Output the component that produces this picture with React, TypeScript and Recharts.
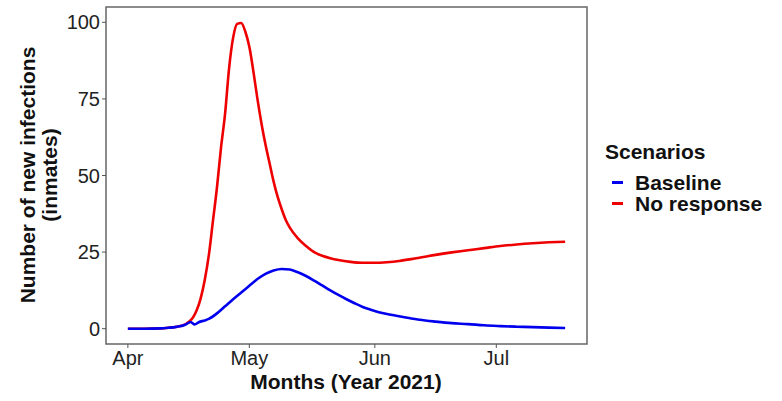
import React from "react";
import { LineChart, Line, XAxis, YAxis, ReferenceArea } from "recharts";

// Days since 1 April 2021
const noResponseDays = [0, 4, 8, 10, 12, 14, 15, 16, 17, 18, 19, 20, 21, 22, 23, 24, 25, 26, 27, 28, 29, 30, 31, 32, 33, 34, 35, 36, 37, 38, 39, 40, 42, 44, 46, 48, 50, 52, 55, 58, 61, 64, 67, 70, 73, 76, 80, 84, 88, 92, 96, 100, 104, 108];
const noResponseValues = [0, 0, 0.1, 0.3, 0.6, 1.3, 2.2, 3.5, 6, 10, 16, 24, 35, 46, 59, 70, 85, 95, 99.5, 99.8, 97, 92, 84, 75, 67, 60, 54, 48, 43, 39, 35.5, 33, 29.5, 27, 25, 23.8, 23, 22.4, 21.8, 21.5, 21.5, 21.7, 22.1, 22.7, 23.4, 24.1, 24.9, 25.6, 26.3, 27, 27.5, 27.9, 28.2, 28.4];

const baselineDays = [0, 4, 8, 10, 12, 14, 15, 15.5, 16.5, 17.5, 19, 20, 22, 24, 26, 28, 30, 32, 34, 36, 38, 40, 42, 44, 46, 48, 50, 52, 54, 56, 58, 60, 62, 64, 66, 68, 70, 72, 76, 80, 84, 88, 92, 96, 100, 104, 108];
const baselineValues = [0, 0, 0.1, 0.3, 0.6, 1.2, 1.9, 2.2, 1.4, 2.1, 2.7, 3.2, 5.0, 7.3, 9.6, 11.8, 14.0, 16.2, 17.9, 19.0, 19.5, 19.3, 18.4, 17.2, 15.7, 14.1, 12.5, 11.0, 9.6, 8.3, 7.1, 6.2, 5.4, 4.8, 4.3, 3.8, 3.3, 2.9, 2.3, 1.8, 1.5, 1.1, 0.85, 0.65, 0.5, 0.35, 0.2];

const xTicks = [0, 30, 61, 91];
const xTickLabels = ["Apr", "May", "Jun", "Jul"];
const yTicks = [0, 25, 50, 75, 100];

const xDomain: [number, number] = [-5.4, 113.4];
const yDomain: [number, number] = [-5, 105];

const FONT = "'Liberation Sans', Arial, sans-serif";
const BLUE = "#0000ee";
const RED = "#ee0000";

const baselineData = baselineDays.map((d, i) => ({ day: d, value: baselineValues[i] }));
const noResponseData = noResponseDays.map((d, i) => ({ day: d, value: noResponseValues[i] }));

export default function App() {
  return (
    <div style={{ position: "absolute", left: 0, top: 0, width: 782, height: 401, background: "#fff", fontFamily: FONT }}>
      <LineChart width={782} height={401} margin={{ top: 7, right: 195, bottom: 27, left: 0 }}>
        <XAxis
          type="number"
          dataKey="day"
          domain={xDomain}
          allowDataOverflow
          ticks={xTicks}
          tickFormatter={(v: number) => xTickLabels[xTicks.indexOf(v)] ?? ""}
          height={30}
          axisLine={false}
          tickSize={4}
          tickMargin={3}
          tickLine={{ stroke: "#555", strokeWidth: 1 }}
          tick={{ fill: "#222", fontSize: 20, fontFamily: FONT }}
        />
        <YAxis
          type="number"
          domain={yDomain}
          allowDataOverflow
          ticks={yTicks}
          width={106}
          axisLine={false}
          tickSize={4}
          tickMargin={2}
          tickLine={{ stroke: "#555", strokeWidth: 1 }}
          tick={{ fill: "#222", fontSize: 20, fontFamily: FONT }}
        />
        <ReferenceArea x1={xDomain[0]} x2={xDomain[1]} y1={yDomain[0]} y2={yDomain[1]} fill="none" stroke="#666" strokeWidth={1.5} ifOverflow="visible" />
        <Line data={noResponseData} dataKey="value" type="monotone" stroke={RED} strokeWidth={2.6} dot={false} isAnimationActive={false} />
        <Line data={baselineData} dataKey="value" type="monotone" stroke={BLUE} strokeWidth={2.6} dot={false} isAnimationActive={false} />
      </LineChart>

      {/* Y axis title */}
      <div style={{ position: "absolute", left: 39, top: 175, transform: "translate(-50%, -50%) rotate(-90deg)", whiteSpace: "nowrap", textAlign: "center", fontWeight: "bold", fontSize: 21, lineHeight: "22px", color: "#111" }}>
        Number of new infections
        <br />
        (inmates)
      </div>

      {/* X axis title */}
      <div style={{ position: "absolute", left: 346, top: 382, transform: "translate(-50%, -50%)", whiteSpace: "nowrap", fontWeight: "bold", fontSize: 21, color: "#111" }}>
        Months (Year 2021)
      </div>

      {/* Legend */}
      <div style={{ position: "absolute", left: 605, top: 140, fontWeight: "bold", fontSize: 21, color: "#111" }}>
        <div style={{ lineHeight: "24px", marginBottom: 8 }}>Scenarios</div>
        {[{ label: "Baseline", color: BLUE }, { label: "No response", color: RED }].map((item) => (
          <div key={item.label} style={{ display: "flex", alignItems: "center", height: 21 }}>
            <span style={{ display: "inline-block", width: 11, height: 3, background: item.color, marginLeft: 7, marginRight: 12 }} />
            <span style={{ lineHeight: "21px" }}>{item.label}</span>
          </div>
        ))}
      </div>
    </div>
  );
}
